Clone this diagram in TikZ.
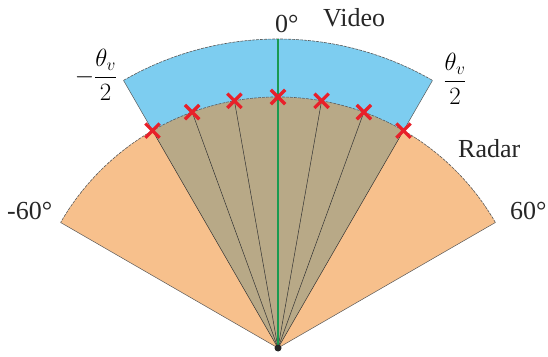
\documentclass[tikz,border=0pt]{standalone}
\usepackage{fontspec}
\setmainfont{Liberation Serif}
\usetikzlibrary{shapes.misc}
\definecolor{radarc}{RGB}{247,192,140}
\definecolor{overc}{RGB}{184,169,135}
\definecolor{videoc}{RGB}{125,205,240}
\definecolor{greenc}{RGB}{26,154,80}
\definecolor{redc}{RGB}{232,32,42}
\begin{document}
\begin{tikzpicture}[x=1pt,y=1pt,
  edge/.style={draw=black!65,line width=0.5pt},
  arcline/.style={draw=black!65,line width=0.6pt,dash pattern=on 3pt off 1pt},
  ray/.style={draw=black!80,line width=0.5pt},
  xmark/.style={cross out,draw=redc,line width=3.3pt,minimum size=11pt,inner sep=0pt},
  lab/.style={inner sep=0pt,font=\fontsize{26}{30}\selectfont,text=black!85},
  mlab/.style={inner sep=0pt,font=\fontsize{24}{28}\selectfont}]
\useasboundingbox (0,0) rectangle (548,356);
\coordinate (O) at (278,8);
\path (O) ++(30:251) coordinate (R30);
\path (O) ++(150:251) coordinate (R150);
\path (O) ++(60:309) coordinate (BR);
\path (O) ++(120:309) coordinate (BL);
\foreach \a in {60,70,80,90,100,110,120} {\path (O) ++(\a:251) coordinate (P\a);}
% radar sector
\fill[radarc] (O) -- (R30) arc[start angle=30,end angle=150,radius=251] -- cycle;
% overlap
\fill[overc] (O) -- (P60) arc[start angle=60,end angle=120,radius=251] -- cycle;
% video band
\fill[videoc] (BL) arc[start angle=120,end angle=60,radius=309] -- (P60) arc[start angle=60,end angle=120,radius=251] -- cycle;
\draw[edge] (BL) -- (P120);
\draw[edge] (BR) -- (P60);
\draw[arcline] (BL) arc[start angle=120,end angle=60,radius=309];
% radar outline
\draw[edge] (R150) -- (O) -- (R30);
\draw[arcline] (R30) arc[start angle=30,end angle=150,radius=251];
% rays
\foreach \a in {60,70,80,100,110,120} {\draw[ray] (O) -- (P\a);}
\path (O) ++(90:309) coordinate (T);
\draw[greenc,line width=1.2pt] (O) -- (T);
% crosses
\foreach \a in {60,70,80,90,100,110,120} {\node[xmark] (X\a) at (P\a) {};}
\fill[black!85] (O) circle (3.5);
% labels
\node[lab,anchor=base west] (zero) at (275,323) {0°};
\node[lab,anchor=base west] (video) at (323,329) {Video};
\node[lab,anchor=base west] (radar) at (458,198) {Radar};
\node[lab,anchor=base west] (m60) at (7,136) {-60°};
\node[lab,anchor=base west] (p60) at (510,136) {60°};
\node[mlab] (thl) at (96,281) {$\displaystyle -\frac{\theta_v}{2}$};
\node[mlab] (thr) at (455,277) {$\displaystyle \frac{\theta_v}{2}$};
\end{tikzpicture}
\end{document}
